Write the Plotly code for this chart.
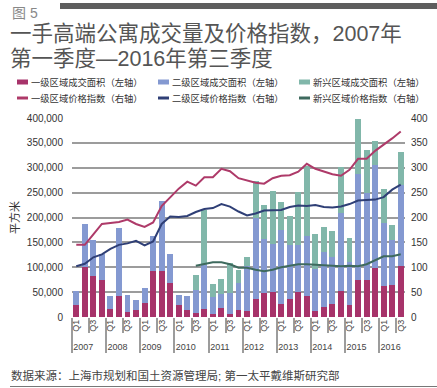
import plotly.graph_objects as go

# ---------------- data ----------------
years = ["2007"] * 4 + ["2008"] * 4 + ["2009"] * 4 + ["2010"] * 4 + ["2011"] * 4 + \
        ["2012"] * 4 + ["2013"] * 4 + ["2014"] * 4 + ["2015"] * 4 + ["2016"] * 3
quarters = (["Q1", "Q2", "Q3", "Q4"] * 10)[:39]

tier1_area = [25000, 101000, 82000, 74000,
              16000, 43000, 10000, 14000,
              28000, 92000, 92000, 69000,
              25000, 14000, 9000, 16000,
              7000, 19000, 7000, 14000,
              12000, 37000, 49000, 51000,
              27000, 37000, 51000, 43000,
              12000, 20000, 26000, 52000,
              25000, 74000, 74000, 98000,
              62000, 65000, 103000]
tier2_area = [27000, 85000, 73000, 53000,
              27000, 135000, 35000, 21000,
              30000, 71000, 141000, 58000,
              20000, 28000, 45000, 89000,
              34000, 27000, 42000, 54000,
              91000, 163000, 107000, 95000,
              148000, 107000, 93000, 120000,
              84000, 110000, 94000, 157000,
              85000, 213000, 175000, 207000,
              127000, 89000, 163000]
emerging_area = [None] * 14 + [31000, 110000,
                               26000, 31000, 59000, 27000,
                               17000, 74000, 69000, 107000,
                               57000, 60000, 107000, 140000,
                               70000, 51000, 52000, 93000,
                               49000, 111000, 86000, 49000,
                               68000, 31000, 65000]
tier1_index = [145, 145, 166, 187,
               189, 191, 196, 187,
               181, 190, 223, 240,
               258, 272, 264, 281,
               281, 298, 293, 279,
               275, 270, 268, 279,
               284, 285, 292, 308,
               298, 293, 287, 284,
               296, 318, 318, 334,
               346, 359, 373]
tier2_index = [102, 107, 120, 126,
               137, 145, 148, 153,
               144, 152, 187, 202,
               201, 203, 211, 217,
               219, 227, 222, 212,
               204, 208, 214, 215,
               215, 221, 224, 223,
               225, 221, 220, 222,
               227, 234, 235, 236,
               241, 256, 266]
emerging_index = [None] * 14 + [103, 106,
                                110, 110, 106, 99,
                                99, 95, 92, 95,
                                100, 103, 106, 106,
                                105, 104, 102, 102,
                                103, 102, 106, 114,
                                122, 122, 126]

left_ticks = [0, 50000, 100000, 150000, 200000, 250000, 300000, 350000, 400000]
right_ticks = [0, 50, 100, 150, 200, 250, 300, 350, 400]

# ---------------- style ----------------
C_RED, C_BLUE, C_TEAL = "#A7336A", "#8499D1", "#81B7AA"
L_RED, L_NAVY, L_GREEN = "#AE3A69", "#2F3F76", "#3E6A5E"
GRID = "#9C9C9C"
FONT = "Liberation Sans, Noto Sans CJK SC, sans-serif"

W, H = 437, 388
PL, PR, PT, PB = 72, 405, 118, 317          # plot area in page pixels
L, T, R, B = PL, PT, W - PR, H - PB
PW, PH = PR - PL, PB - PT


def px(x):
    return (x - PL) / PW


def py(y):
    return (PB - y) / PH


x = [years, quarters]

fig = go.Figure()
fig.add_trace(go.Bar(x=x, y=tier1_area, name="一级区域成交面积（左轴）", marker_color=C_RED,
                     marker_line_width=0))
fig.add_trace(go.Bar(x=x, y=tier2_area, name="二级区域成交面积（左轴）", marker_color=C_BLUE,
                     marker_line_width=0))
fig.add_trace(go.Bar(x=x, y=emerging_area, name="新兴区域成交面积（左轴）", marker_color=C_TEAL,
                     marker_line_width=0))
fig.add_trace(go.Scatter(x=x, y=tier1_index, name="一级区域价格指数（右轴）", mode="lines",
                         line=dict(color=L_RED, width=2), yaxis="y2"))
fig.add_trace(go.Scatter(x=x, y=tier2_index, name="二级区域价格指数（右轴）", mode="lines",
                         line=dict(color=L_NAVY, width=2), yaxis="y2"))
fig.add_trace(go.Scatter(x=x, y=emerging_index, name="新兴区域价格指数（右轴）", mode="lines",
                         line=dict(color=L_GREEN, width=2), yaxis="y2", connectgaps=False))

fig.update_layout(
    width=W, height=H,
    margin=dict(l=L, r=R, t=T, b=B, autoexpand=False),
    paper_bgcolor="white", plot_bgcolor="white",
    barmode="stack", bargap=0.3,
    showlegend=False,
    font=dict(family=FONT, color="#333"),
    xaxis=dict(
        type="multicategory", tickangle=-90,
        tickfont=dict(size=9, color="#444", family=FONT),
        ticks="outside", tickson="boundaries", ticklen=15, tickcolor=GRID, tickwidth=1.5,
        showdividers=True, dividercolor=GRID, dividerwidth=1.5,
        showgrid=False, showline=False, zeroline=False,
    ),
    yaxis=dict(
        range=[0, 400000], tickvals=left_ticks, tickformat=",",
        tickfont=dict(size=10, color="#333"), ticklabelstandoff=8,
        showgrid=True, gridcolor=GRID, gridwidth=2, zeroline=False, showline=False,
        title=dict(text="平方米", font=dict(size=11, color="#333"), standoff=4),
    ),
    yaxis2=dict(
        overlaying="y", side="right", range=[0, 400], tickvals=right_ticks,
        tickfont=dict(size=10, color="#333"), ticklabelstandoff=5,
        showgrid=False, zeroline=False, showline=False,
    ),
)

shapes = [
    dict(type="rect", xref="paper", yref="paper", x0=px(60), x1=px(437), y0=py(3), y1=py(9),
         fillcolor="#5E5E5E", line=dict(width=0)),
    dict(type="line", xref="paper", yref="paper", x0=px(10), x1=px(437), y0=py(386.5), y1=py(386.5),
         line=dict(color="#777", width=1)),
]
annotations = [
    dict(text="图 5", x=px(10), y=py(13), xref="paper", yref="paper", xanchor="left",
         yanchor="middle", showarrow=False, font=dict(size=14, color="#888")),
    dict(text="一手高端公寓成交量及价格指数，2007年", x=px(8), y=py(34.5), xref="paper", yref="paper",
         xanchor="left", yanchor="middle", showarrow=False,
         font=dict(size=21.5, color="#555")),
    dict(text="第一季度—2016年第三季度", x=px(8), y=py(58.5), xref="paper", yref="paper",
         xanchor="left", yanchor="middle", showarrow=False,
         font=dict(size=21.5, color="#555")),
    dict(text="数据来源：上海市规划和国土资源管理局; 第一太平戴维斯研究部", x=px(9), y=py(375),
         xref="paper", yref="paper", xanchor="left", yanchor="middle", showarrow=False,
         font=dict(size=11.5, color="#444")),
]

# manual legend
leg_x = [17, 158, 299]
rows = [82, 98]
bar_cols = [C_RED, C_BLUE, C_TEAL]
line_cols = [L_RED, L_NAVY, L_GREEN]
names = [t.name for t in fig.data]
for i in range(3):
    shapes.append(dict(type="rect", xref="paper", yref="paper", x0=px(leg_x[i]), x1=px(leg_x[i] + 11),
                       y0=py(rows[0] + 2.5), y1=py(rows[0] - 2.5), fillcolor=bar_cols[i],
                       line=dict(width=0)))
    shapes.append(dict(type="line", xref="paper", yref="paper", x0=px(leg_x[i]), x1=px(leg_x[i] + 11),
                       y0=py(rows[1]), y1=py(rows[1]), line=dict(color=line_cols[i], width=3)))
    annotations.append(dict(text=names[i], x=px(leg_x[i] + 12), y=py(rows[0]), xref="paper",
                            yref="paper", xanchor="left", yanchor="middle", showarrow=False,
                            font=dict(size=9.3, color="#333")))
    annotations.append(dict(text=names[i + 3], x=px(leg_x[i] + 12), y=py(rows[1]), xref="paper",
                            yref="paper", xanchor="left", yanchor="middle", showarrow=False,
                            font=dict(size=9.3, color="#333")))

fig.update_layout(shapes=shapes, annotations=annotations)
# remove the default 8px body margin so the figure fills the window exactly
fig.write_html("out.html", config={"displayModeBar": False},
               post_script="document.body.style.margin='0';")
